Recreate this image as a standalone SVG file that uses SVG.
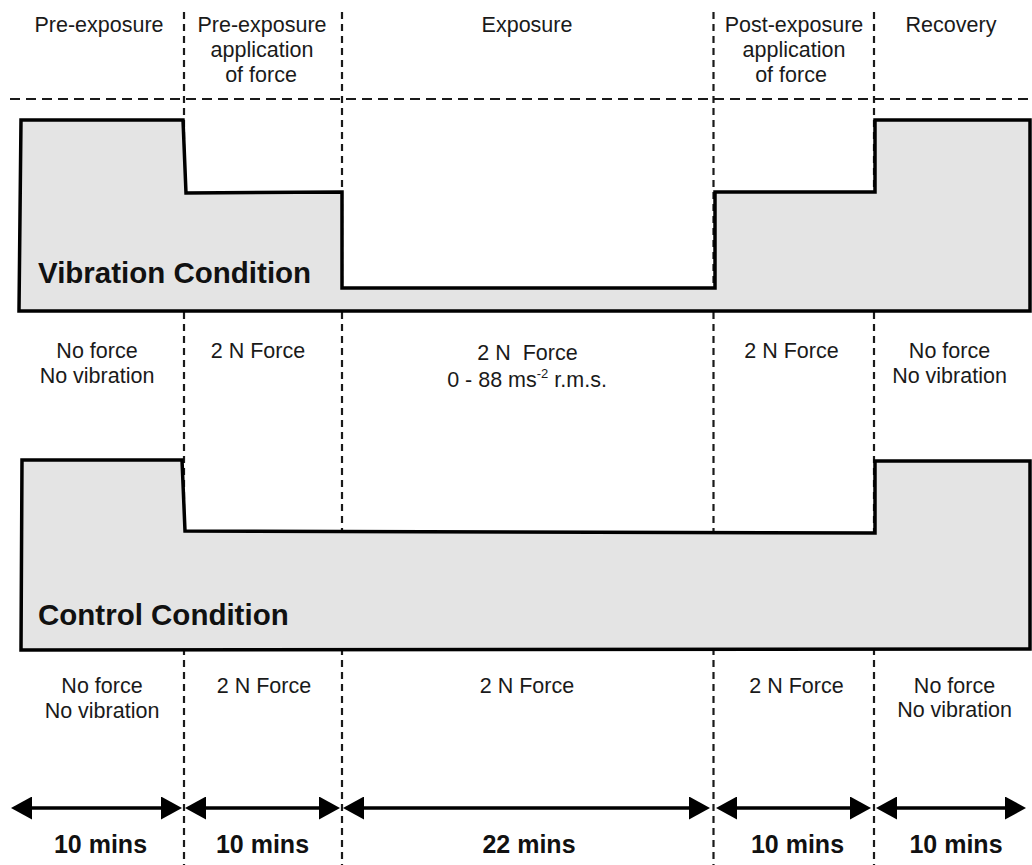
<svg xmlns="http://www.w3.org/2000/svg" width="1032" height="865" viewBox="0 0 1032 865">
  <style>
    .bg { fill: #ffffff; }
    .dash-v { stroke: #1a1a1a; stroke-width: 2.2; stroke-dasharray: 7 5; fill: none; }
    .dash-h { stroke: #1a1a1a; stroke-width: 2.2; stroke-dasharray: 10 6; fill: none; }
    .cond { fill: #e4e4e4; stroke: #000000; stroke-width: 3.5; stroke-linejoin: miter; }
    .lbl { font-family: "Liberation Sans", Arial, Helvetica, sans-serif; font-size: 21.5px; fill: #1a1a1a; text-anchor: middle; }
    .title { font-family: "Liberation Sans", Arial, Helvetica, sans-serif; font-size: 29.5px; font-weight: bold; fill: #111111; }
    .dur { font-family: "Liberation Sans", Arial, Helvetica, sans-serif; font-size: 25px; font-weight: bold; fill: #111111; text-anchor: middle; }
    .arrow { stroke: #000000; stroke-width: 3.5; fill: none; marker-start: url(#ah); marker-end: url(#ah); }
  </style>
  <defs>
    <marker id="ah" markerUnits="userSpaceOnUse" markerWidth="21" markerHeight="23" viewBox="0 0 21 23" refX="6" refY="11.5" orient="auto-start-reverse">
      <path d="M0,0 L21,11.5 L0,23 z" fill="#000000"/>
    </marker>
  </defs>

  <rect class="bg" x="0" y="0" width="1032" height="865"/>

  <g id="grid">
    <line class="dash-h" x1="10" y1="99" x2="1032" y2="99"/>
    <line class="dash-v" x1="184" y1="12" x2="184" y2="865"/>
    <line class="dash-v" x1="342" y1="12" x2="342" y2="865"/>
    <line class="dash-v" x1="713.5" y1="12" x2="713.5" y2="865"/>
    <line class="dash-v" x1="874" y1="12" x2="874" y2="865"/>
  </g>

  <g id="headers">
    <text class="lbl" x="99" y="32">Pre-exposure</text>
    <text class="lbl" x="262" y="32">Pre-exposure</text>
    <text class="lbl" x="262" y="57">application</text>
    <text class="lbl" x="261" y="82">of force</text>
    <text class="lbl" x="527" y="32">Exposure</text>
    <text class="lbl" x="794" y="32">Post-exposure</text>
    <text class="lbl" x="794" y="57">application</text>
    <text class="lbl" x="791" y="82">of force</text>
    <text class="lbl" x="951" y="32">Recovery</text>
  </g>

  <g id="vibration-condition">
    <polygon class="cond" points="21,120 183,120 186,193 342,192 342,288 715,288 715,192 875,192 875,120 1030,120 1030,311 19,311"/>
    <text class="title" x="38" y="283">Vibration Condition</text>
  </g>

  <g id="vibration-labels">
    <text class="lbl" x="97" y="358">No force</text>
    <text class="lbl" x="97" y="383">No vibration</text>
    <text class="lbl" x="258" y="358">2 N Force</text>
    <text class="lbl" x="527.5" y="360" style="white-space:pre">2 N  Force</text>
    <text class="lbl" x="527" y="387">0 - 88 ms<tspan font-size="13" dy="-9">-2</tspan><tspan dy="9"> r.m.s.</tspan></text>
    <text class="lbl" x="791.5" y="358">2 N Force</text>
    <text class="lbl" x="949.5" y="358">No force</text>
    <text class="lbl" x="949.5" y="383">No vibration</text>
  </g>

  <g id="control-condition">
    <polygon class="cond" points="22,460 182,460 185,531 875,533 875,461 1030,461 1030,649 21,650"/>
    <text class="title" x="38" y="625">Control Condition</text>
  </g>

  <g id="control-labels">
    <text class="lbl" x="102" y="693">No force</text>
    <text class="lbl" x="102" y="718">No vibration</text>
    <text class="lbl" x="264" y="693">2 N Force</text>
    <text class="lbl" x="527" y="693">2 N Force</text>
    <text class="lbl" x="796.5" y="693">2 N Force</text>
    <text class="lbl" x="954.5" y="693">No force</text>
    <text class="lbl" x="954.5" y="717">No vibration</text>
  </g>

  <g id="connectors">
    <line class="arrow" x1="26" y1="808" x2="167" y2="808"/>
    <line class="arrow" x1="200" y1="808" x2="325" y2="808"/>
    <line class="arrow" x1="358" y1="808" x2="695" y2="808"/>
    <line class="arrow" x1="731" y1="808" x2="856" y2="808"/>
    <line class="arrow" x1="891" y1="808" x2="1011" y2="808"/>
  </g>

  <g id="durations">
    <text class="dur" x="100.5" y="853">10 mins</text>
    <text class="dur" x="262.5" y="853">10 mins</text>
    <text class="dur" x="529" y="853">22 mins</text>
    <text class="dur" x="797.5" y="853">10 mins</text>
    <text class="dur" x="956" y="853">10 mins</text>
  </g>
</svg>
